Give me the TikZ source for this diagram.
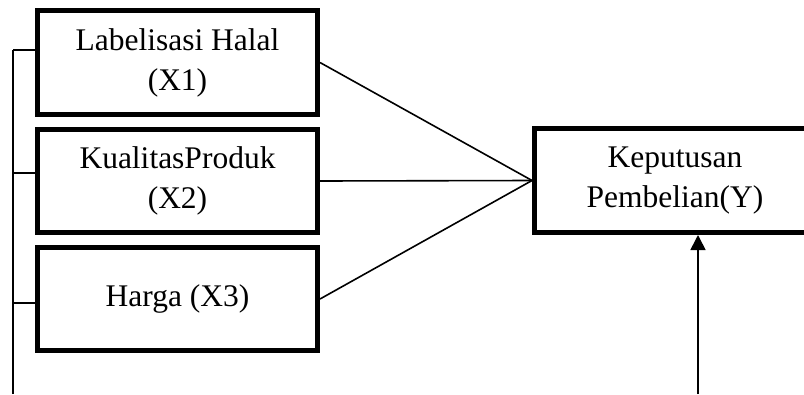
\documentclass[tikz,border=0pt]{standalone}
\usepackage{fontspec}
\setmainfont{Liberation Serif}
\usepackage{tikz}
\usetikzlibrary{arrows.meta,positioning,calc}

\begin{document}
\begin{tikzpicture}[x=1pt,y=-1pt,
  varbox/.style={draw,line width=5pt,inner sep=0pt,minimum width=280pt,
    align=center,font=\fontsize{31.5}{40}\selectfont},
  link/.style={line width=1.6pt}]
  \useasboundingbox (0,0) rectangle (804,394);
  \clip (0,0) rectangle (804,394);
  \node [varbox,minimum height=104pt] (x1) at (177.5,62.5) {Labelisasi Halal\\(X1)};
  \node [varbox,minimum height=103pt] (x2) at (177.5,181) {KualitasProduk\\(X2)};
  \node [varbox,minimum height=103pt] (x3) at (177.5,299) {Harga (X3)};
  \node [varbox,minimum height=104pt,minimum width=281pt] (y) at (675,180.5) {Keputusan\\Pembelian(Y)};
  \coordinate (bot) at (13,394);
  \coordinate (t1) at (13,50);
  \coordinate (t2) at (13,173);
  \coordinate (t3) at (13,303);
  \coordinate (src) at (698,394);
  % left bracket
  \draw [link] (bot) -- (t1);
  \draw [link] (t1) -- (t1 -| x1.west);
  \draw [link] (t2) -- (t2 -| x2.west);
  \draw [link] (t3) -- (t3 -| x3.west);
  % paths to Y
  \draw [link] (x1.east) -- (y.west);
  \draw [link] (x2.east) -- (y.west);
  \draw [link] (x3.east) -- (y.west);
  \draw [link,-{Triangle[length=15pt,width=15pt]}] (src) -- (src |- y.south);
\end{tikzpicture}
\end{document}
